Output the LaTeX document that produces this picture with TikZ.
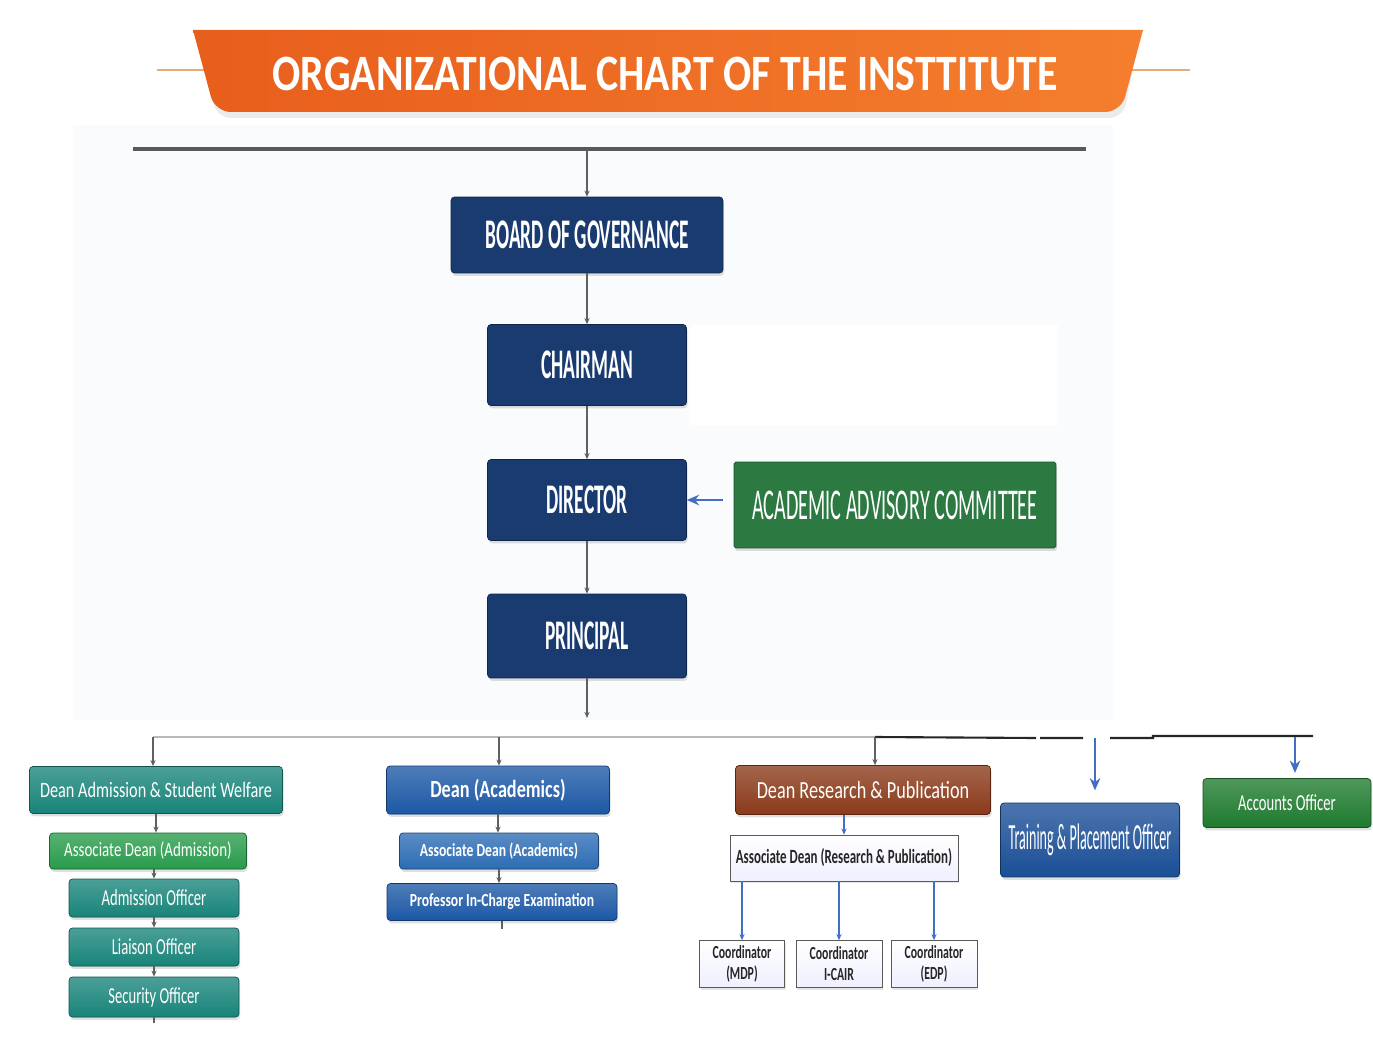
\documentclass[tikz,border=0pt]{standalone}
\usepackage{fontspec}
\setmainfont{Carlito}
\newfontfamily\titlefont[FakeStretch=0.82]{Carlito}
\newfontfamily\bigfont[FakeStretch=0.46]{Carlito}
\newfontfamily\boxfont[FakeStretch=0.74]{Carlito}
\newfontfamily\slimfont[FakeStretch=0.64]{Carlito}
\newfontfamily\tpofont[FakeStretch=0.38]{Carlito}
\usetikzlibrary{arrows.meta,shadows}
\definecolor{navy}{RGB}{25,59,112}
\definecolor{aacgreen}{RGB}{44,122,66}
\definecolor{teal}{RGB}{24,132,122}
\definecolor{admgreen}{RGB}{40,155,75}
\definecolor{acadblue}{RGB}{28,88,165}
\definecolor{assocblue}{RGB}{44,108,180}
\definecolor{brown}{RGB}{138,58,26}
\definecolor{tpoblue}{RGB}{26,78,150}
\definecolor{accgreen}{RGB}{30,122,46}
\definecolor{linkblue}{RGB}{66,110,196}
\definecolor{bannerA}{RGB}{232,94,28}
\definecolor{bannerB}{RGB}{244,126,46}
\definecolor{bannerline}{RGB}{232,172,120}
\definecolor{panel}{RGB}{250,251,252}

\begin{document}
\begin{tikzpicture}[x=0.02cm,y=-0.02cm]
\tikzset{org box/.style={draw=#1!65!black,fill=#1,rounded corners=2pt,text=white,inner sep=0pt,align=center,
    drop shadow={opacity=0.25,shadow xshift=0.6pt,shadow yshift=-1.6pt}},
  lo box/.style={org box=#1,top color=#1!78!white,bottom color=#1},
  plain box/.style={draw=gray!70!black,top color=white,bottom color=blue!6,text=black!85,inner sep=0pt,align=center,
    drop shadow={opacity=0.2,shadow xshift=0.6pt,shadow yshift=-1.2pt}},
  link/.style={draw=gray!75!black,line width=0.6pt,-{Stealth[length=3.5pt,width=3pt]}},
  blue link/.style={draw=linkblue,line width=1pt,-{Stealth[length=7pt,width=6pt]}},
  thin link/.style={draw=linkblue,line width=0.6pt,-{Stealth[length=3.5pt,width=3pt]}}}
\useasboundingbox (0,0) rectangle (1373,1054);
\fill[panel] (73,125) rectangle (1113,720);
\fill[white] (690,325) rectangle (1058,425);

% banner
\draw[bannerline,line width=1.2pt] (157,70) -- (210,70);
\draw[bannerline,line width=1.2pt] (1128,70) -- (1190,70);
\fill[black,opacity=0.08,rounded corners=8pt] (198,36) -- (1140,36) -- (1123,118) -- (217,118) -- cycle;
\shade[left color=bannerA,right color=bannerB] (193,30) -- (1143,30) [rounded corners=9pt] -- (1121,112) -- (215,112) [sharp corners] -- cycle;
\node[text=white,font=\titlefont\bfseries\fontsize{29}{30}\selectfont] (title) at (665,74) {ORGANIZATIONAL CHART OF THE INSTTITUTE};

\draw[gray!70!black,line width=2pt] (133,149) -- (1086,149);
\coordinate (top) at (587,149);

\node[org box=navy,minimum width=5.44cm,minimum height=1.52cm,font=\bigfont\bfseries\fontsize{24}{26}\selectfont] (bog) at (587,235) {BOARD OF GOVERNANCE};
\node[org box=navy,minimum width=3.98cm,minimum height=1.62cm,font=\bigfont\bfseries\fontsize{24}{26}\selectfont] (chair) at (587,365) {CHAIRMAN};
\node[org box=navy,minimum width=3.98cm,minimum height=1.62cm,font=\bigfont\bfseries\fontsize{24}{26}\selectfont] (dir) at (587,500) {DIRECTOR};
\node[org box=aacgreen,rounded corners=1pt,minimum width=6.44cm,minimum height=1.72cm,font=\bigfont\fontsize{25}{27}\selectfont] (aac) at (895,505) {ACADEMIC ADVISORY COMMITTEE};
\node[org box=navy,minimum width=3.98cm,minimum height=1.68cm,font=\bigfont\bfseries\fontsize{24}{26}\selectfont] (prin) at (587,636) {PRINCIPAL};

\draw[link] (top) -- (bog);
\draw[link] (bog) -- (chair);
\draw[link] (chair) -- (dir);
\draw[link] (dir) -- (prin);
\draw[blue link,shorten <=6pt] (aac.west |- dir) -- (dir);

\coordinate (hub) at (587,718);
\draw[link] (prin) -- (hub);

% second level
\node[lo box=teal,minimum width=5.06cm,minimum height=0.94cm,font=\boxfont\fontsize{12.5}{14}\selectfont] (dasw) at (156,790) {Dean Admission \& Student Welfare};
\node[lo box=admgreen,minimum width=3.94cm,minimum height=0.72cm,font=\boxfont\fontsize{11.5}{13}\selectfont] (adadm) at (148,851) {Associate Dean (Admission)};
\node[lo box=teal,minimum width=3.40cm,minimum height=0.76cm,font=\slimfont\fontsize{13}{14}\selectfont] (admo) at (154,898) {Admission Officer};
\node[lo box=teal,minimum width=3.40cm,minimum height=0.76cm,font=\slimfont\fontsize{13}{14}\selectfont] (liao) at (154,947) {Liaison Officer};
\node[lo box=teal,minimum width=3.40cm,minimum height=0.80cm,font=\slimfont\fontsize{13}{14}\selectfont] (seco) at (154,997) {Security Officer};

\node[lo box=acadblue,minimum width=4.46cm,minimum height=0.96cm,font=\boxfont\bfseries\fontsize{14}{16}\selectfont] (dacad) at (498,790) {Dean (Academics)};
\node[lo box=assocblue,minimum width=3.98cm,minimum height=0.72cm,font=\boxfont\bfseries\fontsize{10.5}{12}\selectfont] (adacad) at (499,851) {Associate Dean (Academics)};
\node[lo box=acadblue,minimum width=4.60cm,minimum height=0.74cm,font=\boxfont\bfseries\fontsize{10.5}{12}\selectfont] (profx) at (502,902) {Professor In-Charge Examination};

\node[lo box=brown,minimum width=5.10cm,minimum height=0.98cm,font=\boxfont\fontsize{14}{16}\selectfont] (drp) at (863,790) {Dean Research \& Publication};
\node[plain box,minimum width=4.56cm,minimum height=0.92cm,font=\slimfont\bfseries\fontsize{11.5}{13}\selectfont] (adrp) at (844,858) {Associate Dean (Research \& Publication)};
\node[plain box,minimum width=1.70cm,minimum height=0.94cm,font=\slimfont\bfseries\fontsize{10.5}{12}\selectfont] (cmdp) at (742,964) {Coordinator\\(MDP)};
\node[plain box,minimum width=1.72cm,minimum height=0.94cm,font=\slimfont\bfseries\fontsize{10.5}{12}\selectfont] (ccair) at (839,964) {Coordinator\\I-CAIR};
\node[plain box,minimum width=1.72cm,minimum height=0.94cm,font=\slimfont\bfseries\fontsize{10.5}{12}\selectfont] (cedp) at (934,964) {Coordinator\\(EDP)};

\node[lo box=tpoblue,minimum width=3.58cm,minimum height=1.48cm,font=\tpofont\fontsize{21}{23}\selectfont] (tpo) at (1090,840) {Training \& Placement Officer};
\node[lo box=accgreen,minimum width=3.36cm,minimum height=0.98cm,font=\slimfont\fontsize{13}{15}\selectfont] (acco) at (1287,803) {Accounts Officer};

% connectors
\coordinate (j1) at (153,737);
\coordinate (j2) at (499,737);
\coordinate (j3) at (875,737);
\coordinate (j4) at (1095,738);
\coordinate (j5) at (1295,737);
\draw[gray!55,line width=1pt] (j1) -- (j3);
\draw[black!85,line width=1.2pt] (j3) -- (1036,738) (1040,738) -- (1083,738) (1110,738) -- (1153,738) -- (1153,736) -- (1313,736);
\draw[link] (j1) -- (j1 |- dasw.north);
\draw[link] (j2) -- (j2 |- dacad.north);
\draw[link] (j3) -- (j3 |- drp.north);
\draw[blue link,shorten >=7pt] (j4) -- (j4 |- tpo.north);
\draw[blue link,shorten >=3pt] (j5) -- (j5 |- acco.north);

\draw[link] (dasw.south) -- (dasw.south |- adadm.north);
\draw[link] (adadm.south -| admo) -- (admo);
\draw[link] (admo) -- (liao);
\draw[link] (liao) -- (seco);
\draw[gray!75!black,line width=0.6pt] (seco.south) -- ++(0,6);

\draw[link] (dacad.south) -- (dacad.south |- adacad.north);
\draw[link] (adacad.south) -- (adacad.south |- profx.north);
\draw[gray!75!black,line width=0.6pt] (profx.south) -- ++(0,8);

\draw[thin link] (adrp.north |- drp.south) -- (adrp.north);
\foreach \c in {cmdp,ccair,cedp}
  \draw[thin link] (adrp.south -| \c.north) -- (\c.north);
\end{tikzpicture}
\end{document}
